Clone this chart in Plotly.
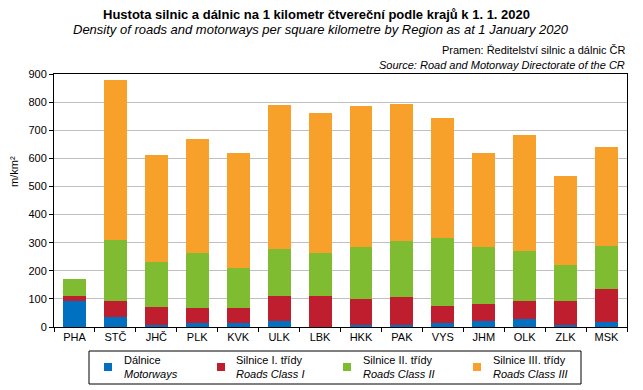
import plotly.graph_objects as go

regions = ["PHA", "STČ", "JHČ", "PLK", "KVK", "ULK", "LBK", "HKK", "PAK", "VYS", "JHM", "OLK", "ZLK", "MSK"]
motorways = [91, 34, 8, 15, 13, 20, 0, 6, 6, 15, 23, 27, 8, 19]
class1 = [20, 60, 64, 54, 56, 91, 111, 92, 100, 61, 60, 67, 86, 117]
class2 = [61, 217, 160, 195, 142, 168, 153, 188, 201, 242, 203, 178, 128, 153]
class3 = [0, 569, 381, 406, 409, 512, 498, 501, 487, 427, 334, 412, 316, 353]

series_cz = ["Dálnice", "Silnice I. třídy", "Silnice II. třídy", "Silnice III. třídy"]
series_en = ["Motorways", "Roads Class I", "Roads Class II", "Roads Class III"]
colors = ["#0070C0", "#BE1E2D", "#80BC31", "#F7A12A"]

FONT = "Liberation Sans, Arial, sans-serif"
W, H = 643, 390
L, R, T, B = 54, 16, 74, 63
PW, PH = W - L - R, H - T - B


def px(x):
    return (x - L) / PW


def py(y):
    return (H - B - y) / PH


fig = go.Figure()
for vals, cz, en, col in zip([motorways, class1, class2, class3], series_cz, series_en, colors):
    fig.add_trace(go.Bar(x=regions, y=vals, name=cz, marker=dict(color=col, line=dict(width=0)),
                         width=0.56, showlegend=False))

fig.update_layout(
    width=W, height=H, barmode="stack",
    margin=dict(l=L, r=R, t=T, b=B),
    paper_bgcolor="white", plot_bgcolor="white",
    font=dict(family=FONT, size=11, color="black"),
    xaxis=dict(range=[-0.5, 13.5], tickson="boundaries", ticks="outside", ticklen=4,
               tickcolor="black", showline=True, linecolor="black", linewidth=1, mirror=True,
               showgrid=False, tickfont=dict(size=11)),
    yaxis=dict(range=[0, 900], dtick=100, ticks="outside", ticklen=4, tickcolor="black",
               showline=True, linecolor="black", linewidth=1, mirror=True,
               showgrid=True, gridcolor="#C0C0C0", gridwidth=1, tickfont=dict(size=11), zeroline=False),
)

ann = [
    dict(x=px(316), y=py(14), text="<b>Hustota silnic a dálnic na 1 kilometr čtvereční podle krajů k 1. 1. 2020</b>",
         font=dict(size=13)),
    dict(x=px(321), y=py(30), text="<i>Density of roads and motorways per square kilometre by Region as at 1 January 2020</i>",
         font=dict(size=13)),
    dict(x=px(627), y=py(50), text="Pramen: Ředitelství silnic a dálnic ČR", xanchor="right", font=dict(size=11)),
    dict(x=px(627), y=py(65), text="<i>Source: Road and Motorway Directorate of the CR</i>", xanchor="right",
         font=dict(size=11)),
    dict(x=px(14), y=py(172), text="m/km²", textangle=-90, font=dict(size=11)),
]

shapes = [dict(type="rect", xref="paper", yref="paper", x0=px(89), x1=px(581), y0=py(351), y1=py(384),
               line=dict(color="black", width=1), fillcolor="rgba(0,0,0,0)")]
sq_centers = [108, 221, 347, 477]
text_left = [122, 234, 361, 491]
for cz, en, col, cx, tx in zip(series_cz, series_en, colors, sq_centers, text_left):
    shapes.append(dict(type="rect", xref="paper", yref="paper", x0=px(cx - 4), x1=px(cx + 4),
                       y0=py(363), y1=py(371), line=dict(width=0), fillcolor=col))
    ann.append(dict(x=px(tx), y=py(367), xanchor="left", align="left",
                    text=f"{cz}<br><i>{en}</i>", font=dict(size=11)))

for a in ann:
    a.setdefault("xref", "paper")
    a.setdefault("yref", "paper")
    a.setdefault("showarrow", False)
    a.setdefault("yanchor", "middle")
    a.setdefault("xanchor", "center")

fig.update_layout(annotations=ann, shapes=shapes)
fig.write_html("out.html", config={"displayModeBar": False},
               post_script="document.body.style.margin='0';")
